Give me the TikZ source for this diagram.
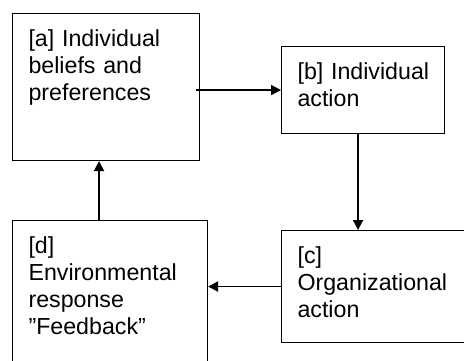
\documentclass[tikz,border=0pt]{standalone}
\usepackage{fontspec}
\setmainfont{Liberation Sans}
\usetikzlibrary{arrows.meta}
\hyphenpenalty=10000
\begin{document}
\begin{tikzpicture}[x=1pt,y=-1pt,
    stage/.style={draw,line width=1.1pt,anchor=north west,align=left,
      inner sep=16pt,text height=17pt,
      font=\fontsize{23.2}{27}\selectfont},
    flow/.style={line width=1.8pt,-{Triangle[length=10pt,width=10pt]}}]
  \useasboundingbox (0,0) rectangle (464,361);
  \draw
    (12,13) node[stage,text width=155pt,text depth=98pt] (a)
      {[a]~Individual\\beliefs and\\preferences}
    (281,46) node[stage,text width=131pt,text depth=38pt] (b)
      {[b]~Individual\\action}
    (281,230) node[stage,text width=160pt,text depth=63pt] (c)
      {[c]\\Organizational\\action}
    (12,220) node[stage,text width=163pt,text depth=101pt] (d)
      {[d]\\Environmental\\response\\”Feedback”};
  \begin{scope}[flow]
    \draw ([xshift=-4pt]a.east |- b.west) to (b.west);
    \draw ([xshift=-5pt]b.south) to ([xshift=-5pt]b.south |- c.north);
    \draw (c.west) to (c.west -| d.east);
    \draw ([xshift=-11pt]d.north) to ([xshift=-11pt]d.north |- a.south);
  \end{scope}
\end{tikzpicture}
\end{document}
